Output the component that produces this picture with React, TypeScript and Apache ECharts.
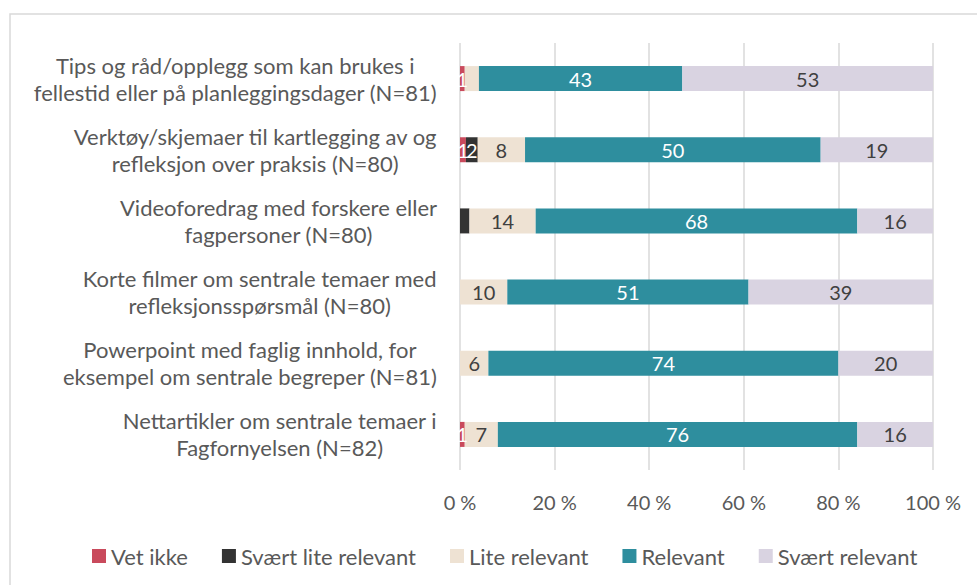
import React, { useEffect, useRef } from 'react';
import * as echarts from 'echarts';

const categories = [
  'Tips og råd/opplegg som kan brukes i\nfellestid eller på planleggingsdager (N=81)',
  'Verktøy/skjemaer til kartlegging av og\nrefleksjon over praksis (N=80)',
  'Videoforedrag med forskere eller\nfagpersoner (N=80)',
  'Korte filmer om sentrale temaer med\nrefleksjonsspørsmål (N=80)',
  'Powerpoint med faglig innhold, for\neksempel om sentrale begreper (N=81)',
  'Nettartikler om sentrale temaer i\nFagfornyelsen (N=82)',
];

const seriesNames = ['Vet ikke', 'Svært lite relevant', 'Lite relevant', 'Relevant', 'Svært relevant'];

const vetIkke = [1, 1, 0, 0, 0, 1];
const svaertLite = [0, 2, 2, 0, 0, 0];
const lite = [3, 8, 14, 10, 6, 7];
const relevant = [43, 50, 68, 51, 74, 76];
const svaertRelevant = [53, 19, 16, 39, 20, 16];

// labels that are not shown in the reference: [seriesIndex, categoryIndex]
const hiddenLabels = [
  [2, 0],
  [1, 2],
];

const xTicks = [0, 20, 40, 60, 80, 100];

const colors = ['#C94A5C', '#333333', '#EEE2D3', '#2E8E9E', '#D9D3E1'];
const labelColors = ['#FFFFFF', '#FFFFFF', '#404040', '#FFFFFF', '#404040'];

const FONT = 'Lato, "Open Sans", sans-serif';

export default function App() {
  const ref = useRef<HTMLDivElement>(null);

  useEffect(() => {
    if (!ref.current) return;
    const chart = echarts.init(ref.current, undefined, { renderer: 'svg' });
    const all = [vetIkke, svaertLite, lite, relevant, svaertRelevant];
    const totals = categories.map((_, i) => all.reduce((s, arr) => s + arr[i], 0));

    const series = all.map((arr, si) => ({
      name: seriesNames[si],
      type: 'bar',
      stack: 'total',
      barWidth: 25,
      itemStyle: { color: colors[si] },
      label: {
        show: true,
        position: 'inside',
        color: labelColors[si],
        fontSize: 20,
        fontFamily: FONT,
        formatter: (p: any) => String(p.data.raw),
      },
      data: arr.map((v, ci) => {
        const hidden = v === 0 || hiddenLabels.some(([s, c]) => s === si && c === ci);
        return {
          value: (v / totals[ci]) * 100,
          raw: v,
          label: { show: !hidden },
        };
      }),
    }));

    chart.setOption({
      animation: false,
      backgroundColor: '#FFFFFF',
      color: colors,
      textStyle: { fontFamily: FONT },
      graphic: [
        {
          type: 'rect',
          shape: { x: 10, y: 14, width: 1000, height: 600 },
          style: { fill: 'none', stroke: '#D9D9D9', lineWidth: 1.5 },
          silent: true,
        },
      ],
      grid: { left: 460, right: 44, top: 43, bottom: 115, containLabel: false },
      legend: {
        data: seriesNames,
        left: 92,
        top: 545,
        padding: 0,
        itemWidth: 14,
        itemHeight: 14,
        itemGap: 34,
        icon: 'rect',
        textStyle: { fontSize: 22, color: '#595959', fontFamily: FONT },
      },
      xAxis: {
        type: 'value',
        min: xTicks[0],
        max: xTicks[xTicks.length - 1],
        interval: xTicks[1] - xTicks[0],
        axisLine: { show: false },
        axisTick: { show: false },
        splitLine: { show: true, lineStyle: { color: '#D9D9D9', width: 1.5 } },
        axisLabel: {
          formatter: '{value} %',
          fontSize: 20,
          color: '#595959',
          margin: 22,
          fontFamily: FONT,
        },
      },
      yAxis: {
        type: 'category',
        inverse: true,
        data: categories,
        axisLine: { show: false },
        axisTick: { show: false },
        axisLabel: {
          align: 'right',
          margin: 23,
          color: '#595959',
          fontSize: 22,
          lineHeight: 27,
          fontFamily: FONT,
          formatter: (v: string) =>
            v
              .split('\n')
              .map((l) => `{c|${l}}`)
              .join('\n'),
          rich: {
            c: { align: 'center', fontSize: 22, lineHeight: 27, color: '#595959', fontFamily: FONT },
          },
        },
      },
      series,
    });

    return () => chart.dispose();
  }, []);

  return (
    <div
      ref={ref}
      style={{ position: 'absolute', left: 0, top: 0, width: 977, height: 585 }}
    />
  );
}
